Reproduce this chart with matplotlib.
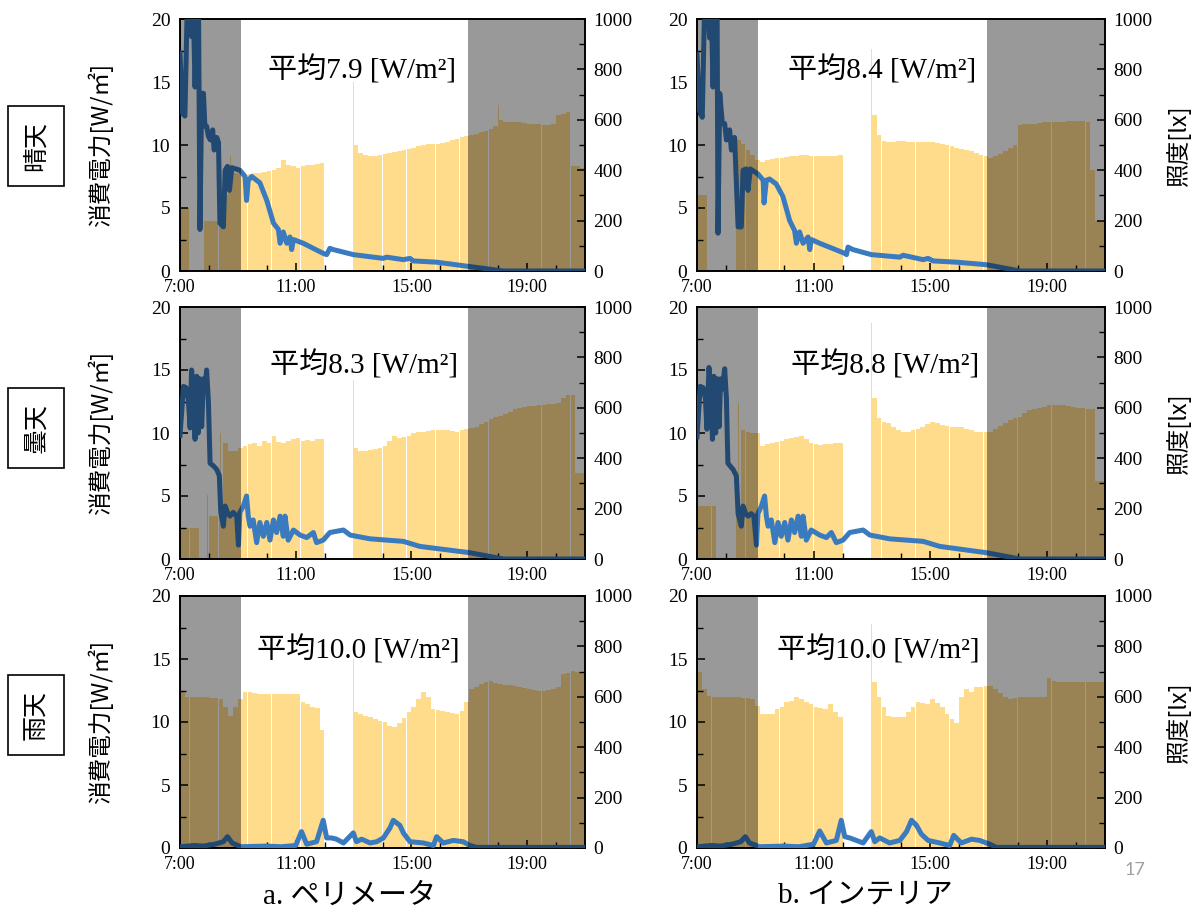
import numpy as np
import matplotlib
matplotlib.use('Agg')
import matplotlib.pyplot as plt
from matplotlib.ticker import MultipleLocator, FixedLocator

plt.rcParams['font.family'] = ['Liberation Serif', 'Noto Sans CJK JP']
plt.rcParams['axes.linewidth'] = 1.2

# 10-minute illuminance bins, 7:00 .. 20:50 (one row per hour) [lx]
bin_start = 7 + np.arange(84) / 6

lux_a1 = [250, 250, 0, 0, 0, 200,
          200, 200, 210, 300, 400, 390,
          385, 380, 385, 390, 390, 392,
          395, 400, 410, 440, 420, 415,
          410, 415, 420, 420, 425, 430,
          0, 0, 0, 0, 0, 0,
          500, 470, 460, 455, 458, 460,
          465, 468, 472, 476, 480, 485,
          490, 495, 500, 502, 505, 505,
          508, 512, 518, 525, 530, 535,
          540, 545, 550, 555, 565, 575,
          600, 590, 590, 592, 590, 588,
          585, 585, 582, 580, 580, 585,
          620, 625, 630, 415, 415, 410]
lux_b1 = [300, 300, 0, 0, 0, 0,
          0, 0, 520, 505, 480, 460,
          440, 432, 440, 445, 448, 450,
          452, 455, 458, 460, 462, 458,
          455, 455, 455, 455, 458, 460,
          0, 0, 0, 0, 0, 0,
          620, 540, 515, 510, 512, 515,
          515, 512, 510, 510, 512, 510,
          510, 508, 505, 500, 495, 490,
          485, 480, 475, 468, 462, 455,
          450, 455, 465, 475, 490, 500,
          580, 582, 584, 585, 588, 590,
          590, 590, 592, 592, 595, 595,
          597, 595, 590, 400, 200, 200]
lux_a2 = [125, 125, 125, 125, 0, 0,
          170, 170, 170, 460, 430, 430,
          440, 450, 455, 460, 450, 470,
          460, 490, 465, 460, 470, 475,
          480, 470, 472, 470, 475, 478,
          0, 0, 0, 0, 0, 0,
          440, 428, 430, 432, 438, 442,
          447, 470, 488, 482, 485, 490,
          500, 503, 505, 507, 510, 512,
          513, 510, 506, 505, 510, 515,
          520, 525, 535, 545, 555, 562,
          566, 575, 585, 595, 600, 603,
          606, 608, 610, 612, 615, 617,
          619, 640, 650, 650, 340, 340]
lux_b2 = [210, 210, 210, 210, 0, 0,
          0, 0, 200, 510, 505, 500,
          500, 450, 455, 460, 465, 470,
          475, 480, 485, 489, 475, 460,
          455, 452, 455, 458, 462, 460,
          0, 0, 0, 0, 0, 0,
          640, 560, 545, 539, 525, 510,
          502, 505, 510, 515, 525, 535,
          542, 538, 532, 528, 525, 523,
          522, 515, 510, 505, 503, 502,
          502, 515, 528, 540, 550, 558,
          562, 580, 590, 595, 600, 605,
          611, 611, 610, 610, 608, 605,
          600, 598, 597, 595, 310, 310]
lux_a3 = [620, 600, 598, 598, 600, 598,
          596, 594, 590, 560, 525, 560,
          590, 620, 618, 615, 612, 612,
          610, 610, 610, 610, 612, 610,
          610, 580, 571, 560, 555, 470,
          0, 0, 0, 0, 0, 0,
          540, 530, 525, 518, 512, 505,
          499, 485, 479, 495, 515, 540,
          560, 590, 620, 600, 551, 548,
          545, 540, 535, 532, 545, 580,
          630, 640, 650, 660, 664, 655,
          651, 648, 645, 644, 640, 635,
          631, 628, 625, 625, 628, 632,
          640, 690, 695, 703, 700, 700]
lux_b3 = [700, 630, 605, 600, 600, 600,
          600, 598, 598, 596, 594, 590,
          565, 532, 530, 532, 550, 558,
          578, 585, 598, 590, 580, 570,
          560, 555, 550, 570, 540, 520,
          0, 0, 0, 0, 0, 0,
          660, 600, 560, 525, 520, 518,
          518, 540, 560, 580, 575, 570,
          590, 575, 560, 530, 510, 495,
          600, 630, 620, 640, 640, 642,
          644, 630, 615, 600, 592, 595,
          598, 600, 600, 600, 600, 600,
          675, 662, 660, 660, 660, 660,
          660, 660, 660, 660, 660, 660]

# short illuminance peaks (hour, lx)
spikes_a1 = [(13.0, 750), (18.0, 660), (8.75, 455)]
spikes_b1 = [(13.0, 880), (8.37, 680), (17.98, 610)]
spikes_a2 = [(13.0, 710), (7.95, 255), (8.40, 500)]
spikes_b2 = [(13.0, 935), (8.42, 620)]
spikes_a3 = [(7.0, 730), (13.0, 750)]
spikes_b3 = [(7.02, 910), (13.0, 890)]

# power consumption (hour, W/m2)
power_a1 = [(7.0, 17.3), (7.09, 12.5), (7.17, 12.3), (7.25, 21), (7.35, 21), (7.40, 18.6),
            (7.46, 21), (7.52, 14.6), (7.58, 21), (7.64, 21), (7.69, 3.3), (7.75, 14.1),
            (7.81, 14.1), (7.86, 11.5), (7.92, 11.5), (7.98, 10.7), (8.05, 10.4), (8.13, 11.2),
            (8.18, 9.6), (8.27, 10.6), (8.33, 10.2), (8.38, 3.8), (8.50, 3.5), (8.56, 8.0),
            (8.64, 8.3), (8.71, 6.4), (8.79, 8.2), (9.07, 8.0), (9.25, 7.5), (9.30, 5.6),
            (9.36, 7.2), (9.48, 7.5), (9.76, 7.0), (10.0, 5.6), (10.23, 3.8), (10.40, 3.3),
            (10.46, 2.2), (10.57, 3.1), (10.69, 2.2), (10.80, 2.7), (10.86, 1.7), (10.92, 2.5),
            (11.26, 2.2), (11.95, 1.4), (12.07, 1.3), (12.18, 1.8), (12.30, 1.7), (12.99, 1.3),
            (14.03, 1.0), (14.14, 1.1), (14.72, 0.9), (14.95, 1.0), (15.06, 0.8), (15.87, 0.7),
            (17.02, 0.35), (18.18, 0), (21.0, 0)]
power_b1 = [(7.0, 17.2), (7.09, 12.7), (7.18, 12.2), (7.26, 21), (7.38, 21), (7.43, 18.5),
            (7.49, 21), (7.55, 14.6), (7.61, 21), (7.69, 21), (7.72, 3.0), (7.78, 14.1),
            (7.87, 11.7), (7.95, 11.7), (8.01, 10.4), (8.12, 11.2), (8.18, 9.6), (8.29, 10.6),
            (8.41, 3.5), (8.52, 3.5), (8.58, 8.0), (8.69, 8.1), (8.75, 6.4), (8.83, 8.1),
            (9.09, 7.7), (9.27, 7.2), (9.30, 5.4), (9.38, 7.2), (9.49, 7.3), (9.72, 6.9),
            (9.95, 5.9), (10.18, 4.0), (10.35, 3.2), (10.41, 2.2), (10.52, 3.1), (10.64, 2.2),
            (10.81, 2.7), (10.87, 1.7), (10.92, 2.5), (11.21, 2.2), (12.07, 1.4), (12.13, 1.3),
            (12.18, 1.9), (12.35, 1.7), (12.98, 1.3), (13.96, 1.1), (14.07, 1.25), (14.76, 0.9),
            (14.93, 1.0), (15.10, 0.8), (15.90, 0.7), (16.93, 0.5), (18.08, 0), (21.0, 0)]
power_a2 = [(7.0, 9.8), (7.12, 13.7), (7.21, 13.6), (7.29, 12.6), (7.35, 10.4), (7.40, 15.0),
            (7.46, 13.7), (7.52, 9.5), (7.58, 14.5), (7.63, 10.0), (7.69, 14.3), (7.75, 10.5),
            (7.81, 14.3), (7.86, 13.4), (7.92, 15.0), (7.98, 12.6), (8.04, 7.6), (8.15, 7.4),
            (8.27, 7.1), (8.36, 6.6), (8.41, 3.7), (8.50, 2.6), (8.56, 4.2), (8.64, 3.7),
            (8.73, 3.4), (8.84, 3.7), (8.96, 3.4), (9.02, 1.1), (9.07, 3.7), (9.19, 4.2),
            (9.30, 5.0), (9.36, 3.4), (9.42, 2.6), (9.53, 3.1), (9.65, 1.3), (9.76, 2.9),
            (9.88, 1.8), (10.0, 2.9), (10.11, 1.5), (10.23, 3.1), (10.34, 2.1), (10.46, 3.4),
            (10.57, 1.8), (10.63, 3.4), (10.74, 1.5), (10.92, 2.3), (11.15, 1.9), (11.38, 1.7),
            (11.61, 2.1), (11.72, 1.3), (11.95, 1.5), (12.18, 2.1), (12.41, 2.2), (12.65, 2.3),
            (12.88, 1.9), (13.11, 1.8), (13.57, 1.6), (14.72, 1.4), (15.29, 1.0), (17.02, 0.5),
            (18.18, 0), (21.0, 0)]
power_b2 = [(7.0, 9.7), (7.11, 13.7), (7.21, 13.6), (7.29, 12.7), (7.34, 10.3), (7.41, 15.2),
            (7.47, 13.8), (7.53, 9.5), (7.58, 14.5), (7.64, 10.0), (7.70, 14.3), (7.76, 10.5),
            (7.81, 14.3), (7.87, 13.5), (7.95, 15.1), (8.01, 12.7), (8.06, 7.6), (8.24, 7.1),
            (8.35, 6.6), (8.41, 3.6), (8.52, 2.6), (8.58, 4.2), (8.67, 3.6), (8.75, 3.4),
            (8.86, 3.6), (8.95, 3.4), (9.04, 1.1), (9.09, 3.6), (9.21, 4.2), (9.32, 5.0),
            (9.38, 3.4), (9.44, 2.6), (9.55, 3.1), (9.67, 1.3), (9.78, 2.9), (9.89, 1.8),
            (10.01, 2.9), (10.12, 1.5), (10.24, 3.1), (10.35, 2.1), (10.47, 3.4), (10.58, 1.8),
            (10.64, 3.4), (10.75, 1.5), (10.92, 2.3), (11.21, 1.9), (11.44, 1.7), (11.61, 2.1),
            (11.78, 1.3), (12.01, 1.5), (12.24, 2.1), (12.47, 2.2), (12.70, 2.3), (12.93, 1.9),
            (13.16, 1.8), (13.61, 1.6), (14.76, 1.4), (15.33, 1.0), (16.93, 0.5), (18.08, 0),
            (21.0, 0)]
power_a3 = [(7.0, 0.1), (7.5, 0.2), (7.8, 0.15), (8.2, 0.3), (8.5, 0.5), (8.64, 0.9),
            (8.8, 0.4), (9.1, 0.1), (10.0, 0.15), (10.5, 0.1), (11.0, 0.2), (11.2, 1.3),
            (11.38, 0.3), (11.72, 0.5), (11.95, 2.2), (12.07, 0.8), (12.24, 0.8), (12.41, 0.7),
            (12.65, 0.4), (12.99, 1.2), (13.1, 0.5), (13.28, 0.7), (13.57, 0.4), (13.8, 0.5),
            (14.03, 0.8), (14.26, 1.6), (14.37, 2.2), (14.6, 1.8), (14.72, 1.2), (14.95, 0.5),
            (15.41, 0.4), (15.76, 0.2), (15.87, 0.9), (16.1, 0.4), (16.45, 0.6), (16.79, 0.5),
            (17.02, 0.2), (17.25, 0.05), (21.0, 0.05)]
power_b3 = [(7.0, 0.1), (7.5, 0.2), (7.8, 0.15), (8.2, 0.3), (8.5, 0.5), (8.66, 0.9),
            (8.8, 0.4), (9.04, 0.2), (9.1, 0.1), (10.0, 0.15), (10.5, 0.1), (11.0, 0.3),
            (11.21, 1.35), (11.44, 0.4), (11.78, 0.6), (11.95, 2.2), (12.07, 0.9), (12.24, 0.8),
            (12.47, 0.6), (12.7, 0.4), (12.98, 1.3), (13.1, 0.5), (13.27, 0.8), (13.61, 0.4),
            (13.96, 0.6), (14.19, 1.3), (14.36, 2.2), (14.53, 1.8), (14.7, 1.1), (14.93, 0.6),
            (15.33, 0.4), (15.67, 0.2), (15.81, 1.0), (16.07, 0.4), (16.42, 0.7), (16.7, 0.6),
            (17.05, 0.3), (17.27, 0.05), (21.0, 0.05)]

averages = [['7.9', '8.4'], ['8.3', '8.8'], ['10.0', '10.0']]
weather = ['晴天', '曇天', '雨天']
columns = ['a. ペリメータ', 'b. インテリア']
off_hours = [(7.0, 9.1), (16.95, 21.0)]

lux_grid = [[lux_a1, lux_b1], [lux_a2, lux_b2], [lux_a3, lux_b3]]
spike_grid = [[spikes_a1, spikes_b1], [spikes_a2, spikes_b2], [spikes_a3, spikes_b3]]
power_grid = [[power_a1, power_b1], [power_a2, power_b2], [power_a3, power_b3]]

BAR_COLOR = '#FFDB8C'
LINE_COLOR = '#3A7ABE'

fig = plt.figure(figsize=(11.98, 9.16), dpi=100)

col_left = [180 / 1198, 697 / 1198]
col_width = [405 / 1198, 408 / 1198]
row_bottom = [1 - 271 / 916, 1 - 559 / 916, 1 - 848 / 916]
row_height = 252 / 916
text_x = [[0.450, 0.453], [0.455, 0.461], [0.440, 0.444]]
text_y = [0.80, 0.77, 0.785]


def draw_panel(ax, lux, spikes, power, avg, tx, ty, left_label, right_label):
    ax2 = ax.twinx()
    ax.set_zorder(ax2.get_zorder() + 1)
    ax.patch.set_visible(False)

    ax2.bar(bin_start, lux, width=1 / 6 * 0.97, align='edge', color=BAR_COLOR, linewidth=0)
    st, sv = zip(*spikes)
    ax2.bar(st, sv, width=0.025, color=BAR_COLOR, linewidth=0)

    pt, pv = zip(*power)
    ax.plot(pt, pv, color=LINE_COLOR, lw=3.6, solid_joinstyle='round', zorder=3)

    for x0, x1 in off_hours:
        ax.axvspan(x0, x1, color='black', alpha=0.4, lw=0, zorder=4)

    ax.set_xlim(7, 21)
    ax.set_ylim(0, 20)
    ax2.set_ylim(0, 1000)
    ax.xaxis.set_major_locator(FixedLocator([7, 11, 15, 19]))
    ax.set_xticklabels(['7:00', '11:00', '15:00', '19:00'])
    ax.xaxis.set_minor_locator(MultipleLocator(2))
    ax.yaxis.set_major_locator(MultipleLocator(5))
    ax.yaxis.set_minor_locator(MultipleLocator(2.5))
    ax2.yaxis.set_major_locator(MultipleLocator(200))
    ax2.yaxis.set_minor_locator(MultipleLocator(100))
    for a in (ax, ax2):
        a.tick_params(which='both', direction='in', labelsize=14)
        a.tick_params(which='major', length=6, width=1.1)
        a.tick_params(which='minor', length=4, width=1.0)
    ax.tick_params(axis='x', labelsize=13, pad=6)
    ax.tick_params(axis='y', pad=7)
    ax2.tick_params(axis='y', pad=6)

    ax.text(tx, ty, f'平均{avg} [W/m²]', transform=ax.transAxes, ha='center', va='center',
            fontsize=21, zorder=6)

    if left_label:
        ax.set_ylabel('消費電力[W/㎡]', family='Noto Sans CJK JP', fontsize=17)
        ax.yaxis.set_label_coords(-0.165, 0.5)
    if right_label:
        ax2.set_ylabel('照度[lx]', family='Noto Sans CJK JP', fontsize=17, rotation=90)
        ax2.yaxis.set_label_coords(1.15, 0.5)
    return ax2


for r in range(3):
    for c in range(2):
        ax = fig.add_axes([col_left[c], row_bottom[r], col_width[c], row_height])
        draw_panel(ax, lux_grid[r][c], spike_grid[r][c], power_grid[r][c],
                   averages[r][c], text_x[r][c], text_y[r], c == 0, c == 1)

row_label_y = [146, 428, 715]
for label, y in zip(weather, row_label_y):
    fig.text(36 / 1198, 1 - y / 916, label, rotation=90, ha='center', va='center',
             family='Noto Sans CJK JP', fontsize=18,
             bbox=dict(boxstyle='square,pad=0.6', facecolor='white', edgecolor='black', lw=1.2))

fig.text(350 / 1198, 1 - 897 / 916, columns[0], ha='center', va='center', fontsize=21)
fig.text(865 / 1198, 1 - 897 / 916, columns[1], ha='center', va='center', fontsize=21)
fig.text(1135 / 1198, 1 - 870 / 916, '17', ha='center', va='center', fontsize=13,
         color='#A0A0A0', family='Lato')

fig.savefig('out.png', dpi=100)
